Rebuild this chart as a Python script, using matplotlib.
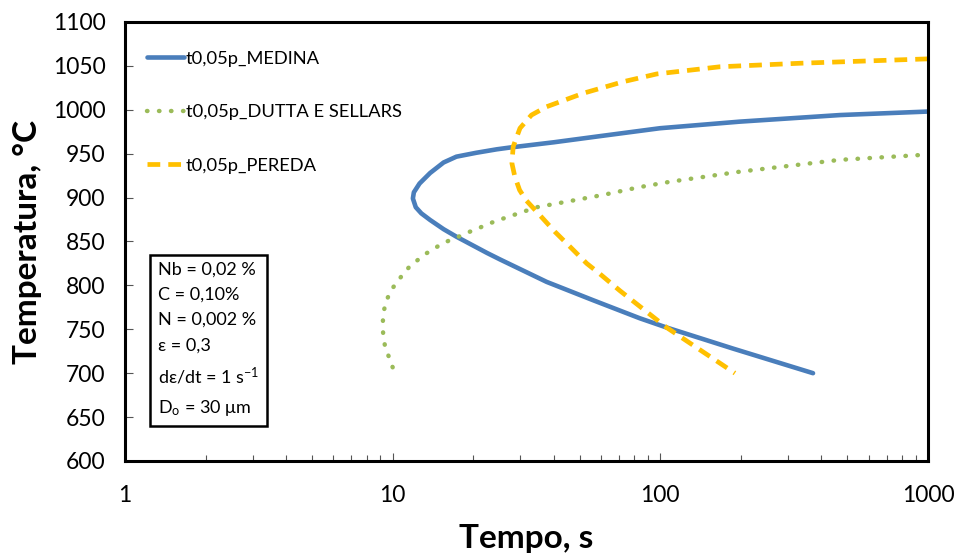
import matplotlib
matplotlib.use("Agg")
import matplotlib.pyplot as plt
from matplotlib.ticker import NullFormatter

plt.rcParams['font.family'] = ['Lato', 'DejaVu Sans']
plt.rcParams['mathtext.default'] = 'regular'

# t0,05p curves: time (s) vs temperature (C)
medina_t = [1000, 469, 198, 99.7, 59.5, 40, 27.4, 24.5, 20.5, 17.3, 15.5, 13.8, 12.6, 12.0, 11.9,
            12.2, 12.8, 13.8, 15.5, 17.3, 22.5, 25.2, 37.6, 56.2, 83.9, 105.6, 187, 372]
medina_T = [998, 994, 986.5, 979, 970, 963, 957, 955, 951, 946.6, 940, 928, 916, 906, 899,
            889, 882, 874.5, 864, 855.5, 837, 829.5, 804, 783, 762.5, 752, 728, 700]

dutta_t = [10.0, 9.7, 9.4, 9.25, 9.18, 9.2, 9.3, 9.5, 9.85, 10.35, 10.88, 11.5, 12.3, 13.2,
           14.1, 15.2, 16.4, 17.8, 19.3, 20.9, 22.6, 24.5, 34.5, 61, 83.9, 108.6, 198, 469, 1000]
dutta_T = [706.7, 718, 728, 739.7, 751, 761.7, 772.8, 783.4, 794, 803.5, 811.8, 820.6, 828, 835.4,
           841, 846.8, 851.7, 856, 860.8, 865, 869.6, 873.7, 889, 903, 912, 918, 929.5, 943, 949]

pereda_t = [1000, 332, 167, 96.9, 72.7, 51.5, 37.6, 33.0, 29.9, 28.2, 27.9, 28.6, 29.8, 31.5, 34.5,
            40.4, 46, 53.1, 59.5, 70.6, 81.5, 105.6, 140, 190]
pereda_T = [1058, 1053, 1049, 1040.8, 1032, 1018.8, 1003.5, 994, 979, 958, 939, 924, 908.6, 897, 884,
            861, 844, 825, 813, 794, 779, 752, 727, 700]

labels = ['t0,05p_MEDINA', 't0,05p_DUTTA E SELLARS', 't0,05p_PEREDA']
box_lines = ['Nb = 0,02 %', 'C = 0,10%', 'N = 0,002 %', 'ε = 0,3',
             'dε/dt = 1 s$^{-1}$', 'D$_o$ = 30 μm']

fig = plt.figure(figsize=(9.55, 5.54), dpi=100)
ax = fig.add_axes([0.1309, 0.1679, 0.8408, 0.7924])

ax.plot(medina_t, medina_T, color='#4A7EBB', lw=3.3, label=labels[0], solid_capstyle='round')
ax.plot(dutta_t, dutta_T, color='#9BBB59', lw=3.2, ls=(0, (0.1, 2.6)), dash_capstyle='round',
        label=labels[1])
ax.plot(pereda_t, pereda_T, color='#FFC000', lw=3.4, ls=(0, (2.7, 1.7)), label=labels[2])

ax.set_xscale('log')
ax.set_xlim(1, 1000)
ax.set_ylim(600, 1100)
ax.set_yticks(range(600, 1101, 50))
ax.xaxis.set_minor_formatter(NullFormatter())
ax.set_xticks([1, 10, 100, 1000])
ax.set_xticklabels(['1', '10', '100', '1000'])
ax.tick_params(axis='both', which='both', direction='in', labelsize=16.5, width=0.8, color='#555555')
ax.tick_params(axis='both', which='major', length=6)
ax.tick_params(axis='x', which='minor', length=4)
ax.tick_params(axis='x', pad=17)
ax.tick_params(axis='y', pad=14)
for s in ax.spines.values():
    s.set_linewidth(2.2)

ax.set_xlabel('Tempo, s', fontsize=24, fontweight='bold', labelpad=13)
ax.set_ylabel('Temperatura, °C', fontsize=24, fontweight='bold', labelpad=8)

leg = ax.legend(loc='upper left', bbox_to_anchor=(0.0, 0.985), frameon=False, fontsize=13.2,
                handlelength=2.0, handletextpad=0.1, labelspacing=2.05, borderaxespad=0.8)

ax.text(0.041, 0.455, '\n'.join(box_lines), transform=ax.transAxes, fontsize=13,
        va='top', ha='left', linespacing=1.72,
        bbox=dict(boxstyle='square,pad=0.45', fc='white', ec='black', lw=1.8))

fig.savefig('out.png', dpi=100)
